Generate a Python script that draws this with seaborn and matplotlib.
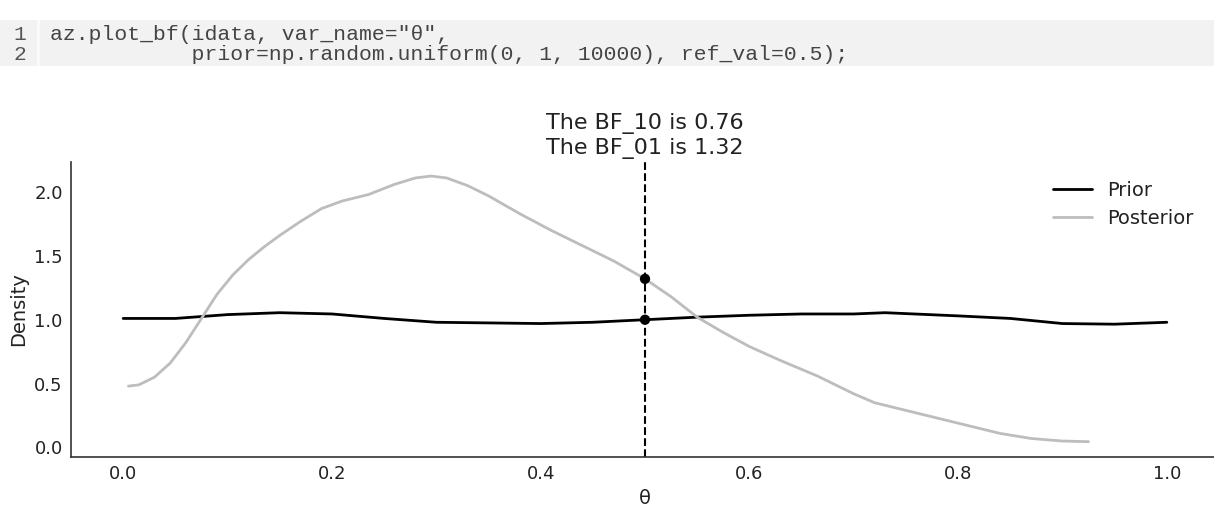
import numpy as np
import pandas as pd
import matplotlib
matplotlib.use("Agg")
import matplotlib.pyplot as plt
from matplotlib.patches import Rectangle
import seaborn as sns

# --- DATI ---
prior_x = [0.0, 0.05, 0.10, 0.15, 0.20, 0.25, 0.30, 0.35, 0.40, 0.45, 0.50,
           0.55, 0.60, 0.65, 0.70, 0.73, 0.80, 0.85, 0.90, 0.95, 1.0]
prior_y = [1.01, 1.01, 1.04, 1.055, 1.045, 1.01, 0.98, 0.975, 0.97, 0.98, 1.0,
           1.02, 1.035, 1.045, 1.045, 1.055, 1.03, 1.01, 0.97, 0.965, 0.98]

posterior_x = [0.005, 0.015, 0.03, 0.045, 0.06, 0.075, 0.09, 0.105, 0.12,
               0.135, 0.15, 0.17, 0.19, 0.21, 0.235, 0.26, 0.28, 0.295, 0.31,
               0.33, 0.35, 0.38, 0.41, 0.44, 0.47, 0.50, 0.525, 0.55, 0.575,
               0.60, 0.63, 0.665, 0.70, 0.72, 0.76, 0.80, 0.84, 0.87, 0.90,
               0.925]
posterior_y = [0.48, 0.49, 0.55, 0.66, 0.82, 1.01, 1.20, 1.35, 1.47,
               1.57, 1.66, 1.77, 1.87, 1.93, 1.98, 2.06, 2.11, 2.125, 2.11,
               2.05, 1.97, 1.83, 1.70, 1.58, 1.46, 1.32, 1.18, 1.02, 0.90,
               0.79, 0.68, 0.56, 0.42, 0.35, 0.27, 0.19, 0.11, 0.07, 0.05,
               0.045]

ref_val = 0.5
ref_density = [1.0, 1.32]  # prior, posterior a ref_val
bf_10 = 0.76
bf_01 = 1.32

code_lines = [
    'az.plot_bf(idata, var_name="\u03b8",',
    '           prior=np.random.uniform(0, 1, 10000), ref_val=0.5);',
]

# --- SETUP ---
sns.set_style("white")
plt.rcParams['font.family'] = ['DejaVu Sans']

W, H = 1214, 509
fig = plt.figure(figsize=(W / 100, H / 100), dpi=100)

# cella di codice in alto
fig.patches.append(Rectangle((0, 1 - 66 / H), 1, 46 / H, transform=fig.transFigure,
                             facecolor='#f2f2f2', edgecolor='none', zorder=0))
fig.patches.append(Rectangle((37 / W, 1 - 66 / H), 3 / W, 46 / H, transform=fig.transFigure,
                             facecolor='#fafafa', edgecolor='none', zorder=1))
for i, line in enumerate(code_lines):
    y = 1 - (35 + i * 19) / H
    fig.text(20 / W, y, str(i + 1), ha='center', va='center', fontsize=15.4,
             family=['Liberation Mono', 'DejaVu Sans Mono'], color='#555555')
    fig.text(50 / W, y, line, ha='left', va='center', fontsize=15.4,
             family=['Liberation Mono', 'DejaVu Sans Mono'], color='#444444')

# assi del grafico
ax = fig.add_axes([71 / W, (H - 457) / H, 1148 / W, (457 - 162) / H])

df = pd.concat([
    pd.DataFrame({'x': prior_x, 'y': prior_y, 'dist': 'Prior'}),
    pd.DataFrame({'x': posterior_x, 'y': posterior_y, 'dist': 'Posterior'}),
])
sns.lineplot(data=df, x='x', y='y', hue='dist', hue_order=['Prior', 'Posterior'],
             palette={'Prior': 'black', 'Posterior': '#bdbdbd'},
             estimator=None, linewidth=2, ax=ax)

ax.axvline(ref_val, color='black', linestyle='--', linewidth=1.5)
sns.scatterplot(x=[ref_val] * len(ref_density), y=ref_density, color='black',
                s=55, edgecolor='none', zorder=5, ax=ax, legend=False)

ax.set_xlim(-0.05, 1.05)
ax.set_ylim(-0.075, 2.235)
ax.set_xticks([0.0, 0.2, 0.4, 0.6, 0.8, 1.0])
ax.set_yticks([0.0, 0.5, 1.0, 1.5, 2.0])
ax.tick_params(axis='both', labelsize=13, length=0, colors='#222222', pad=6)
ax.set_xlabel("\u03b8", fontsize=14, color='#222222', labelpad=4)
ax.set_ylabel("Density", fontsize=14, color='#222222')
ax.set_title(f"The BF_10 is {bf_10:.2f}\nThe BF_01 is {bf_01:.2f}", fontsize=16,
             color='#222222', pad=6)

for side in ['top', 'right']:
    ax.spines[side].set_visible(False)
for side in ['left', 'bottom']:
    ax.spines[side].set_color('#333333')
    ax.spines[side].set_linewidth(1.2)

leg = ax.legend(loc='upper right', bbox_to_anchor=(1211 / W, 1 - 163 / H),
                bbox_transform=fig.transFigure, frameon=False, fontsize=14,
                title=None, handlelength=2.0)
for t in leg.get_texts():
    t.set_color('#222222')

fig.savefig("out.png", dpi=100)
